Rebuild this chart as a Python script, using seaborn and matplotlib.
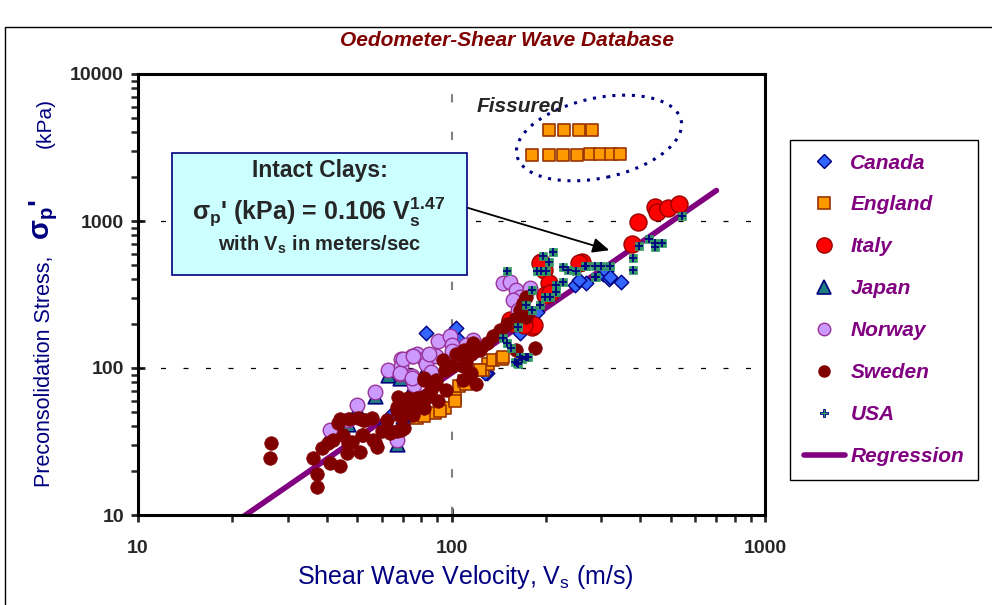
import numpy as np
import pandas as pd
import matplotlib
matplotlib.use("Agg")
import matplotlib.pyplot as plt
import seaborn as sns
from matplotlib.lines import Line2D
from matplotlib.patches import Ellipse, Rectangle
from matplotlib.ticker import LogLocator, NullFormatter
import matplotlib.transforms as mtrans

sns.set_style("white")
plt.rcParams["font.family"] = ["Liberation Sans", "DejaVu Sans"]

# ---- data (Vs in m/s, sigma_p' in kPa) ----
canada_v = [82.7, 103.5, 106, 70.2, 61.4, 165.6, 129.5, 247, 268, 305, 317, 312, 347, 320, 256, 187, 127.6, 46, 72, 80, 64]
canada_s = [172, 186, 156, 42.2, 41, 172, 92.6, 367, 377, 433, 406, 455, 385, 418, 398, 242, 92.6, 43, 49, 58, 48]

england_v = [77.5, 88.3, 95, 102.6, 106, 110, 102.6, 126, 131, 136, 144.7, 146, 123, 111, 82, 92,
             204, 229, 256, 281, 180, 204, 227, 252, 277, 298, 322, 345]
england_s = [45.5, 49.5, 53.1, 62.2, 75, 81, 60, 96.5, 106, 113, 116, 119, 96.5, 78, 47, 51,
             4160, 4160, 4180, 4180, 2810, 2810, 2810, 2830, 2840, 2850, 2860, 2870]

italy_v = [394, 445, 452, 490, 532, 376, 260, 193, 197, 256, 204, 199, 178, 180, 157, 153.5, 183, 206, 191, 170]
italy_s = [990, 1250, 1145, 1220, 1310, 698, 528, 528, 464, 517, 377, 316, 201, 191, 201, 212, 196, 323, 517, 196]

japan_v = [41, 46.8, 49.9, 57, 62.8, 66.8, 68.7, 75.5, 76.1, 85.9, 82.7, 62]
japan_s = [35.5, 41.5, 52.5, 64, 90, 30.5, 86, 76, 72.5, 89, 100, 40]

norway_v = [41, 46.8, 49.9, 57, 62.8, 66.8, 69.2, 69.2, 68.7, 74.6, 75.5, 76.1, 74.6, 77.9, 81.7, 82.7, 85.9,
            90.5, 89.3, 99, 100, 100, 68.5, 70.2, 75.5, 85, 74.6, 146, 153.5, 161, 165.6, 157, 178, 163, 117.5, 111]
norway_s = [37.8, 44.4, 56, 68.3, 96.5, 32.6, 116, 103, 91.1, 87.7, 81, 77.1, 121.5, 125, 116, 106, 94.5,
            151.6, 121.5, 165, 144, 131, 92.6, 116, 121.5, 125, 85, 377, 385, 339, 306, 290, 350, 250, 155, 144]

sweden_v = [26.5, 26.3, 36.1, 37.2, 37.2, 38.6, 40.5, 41.9, 41.0, 44.0, 45.1, 46.8, 46.3, 48.3, 51.0, 50.4,
            52.3, 55.6, 56.3, 57.7, 59.9, 62.1, 63.5, 66.8, 67.6, 66.8, 69.2, 70.8, 72.6, 75.1, 76.1, 77.9,
            81.7, 81.7, 82.7, 85.9, 89.3, 90.5, 93.8, 95.0, 96.2, 100, 106, 108.8, 110, 108.8, 70.2, 73.6,
            81.3, 81.7, 89.3, 103.5, 111, 52.3, 51.7, 57, 62.8, 69.2, 66.8, 169, 165.6, 173, 143, 136,
            129.5, 117.5, 115, 123, 111, 115, 120, 185, 161, 173, 44, 47, 53, 43.5, 160, 150]
sweden_s = [30.7, 24.3, 24.5, 19.0, 15.6, 28.4, 30.7, 32.3, 22.5, 21.6, 34.9, 30.7, 26.3, 31.5, 27.0, 45.5,
            34.9, 45.5, 32.3, 29.1, 37.1, 44.4, 36.2, 37.1, 63.8, 54.5, 46.6, 39.0, 62.2, 47.8, 54.5, 62.2,
            82.8, 53.1, 62.2, 70.7, 78.3, 60.1, 113, 96.5, 70.7, 103, 125, 103, 133, 83, 54.5, 49.5,
            63.8, 85, 83, 125, 119, 44.4, 34.9, 31.5, 37.1, 38.0, 51.9, 275, 250, 224, 182, 165,
            148, 148, 125, 133, 108, 92.6, 78.3, 137, 133, 306, 45, 45, 44.5, 42, 215, 200]

usa_v = [545, 397, 428, 446, 446, 470, 380, 380, 266, 286, 300, 320, 286, 150, 196, 211, 205, 188, 193, 200,
         227, 236, 250, 268, 227, 216, 216, 199, 206, 180, 173, 180, 191, 163, 146, 150, 155, 165.6, 173,
         159, 163, 162, 168, 176, 290]
usa_s = [1080, 676, 750, 710, 670, 710, 558, 464, 494, 494, 494, 494, 418, 455, 577, 620, 528, 455, 455, 455,
         490, 464, 455, 494, 385, 367, 331, 306, 306, 339, 270, 250, 270, 191, 159, 148, 137, 119, 119,
         110, 106, 108, 116, 119, 418]

reg_v = np.geomspace(20, 700, 50)
reg_s = 0.106 * reg_v ** 1.47

W, H = 992, 605
fig = plt.figure(figsize=(W / 100, H / 100), dpi=100)
ax = fig.add_axes([138 / W, 1 - 515 / H, (765 - 138) / W, (515 - 74) / H])

# outer chart border
fig.patches.append(Rectangle((5 / W, -0.05), 1.1, 1 - 27 / H + 0.05, transform=fig.transFigure,
                             fill=False, edgecolor="black", linewidth=1))

sns.lineplot(x=reg_v, y=reg_s, ax=ax, color="#800080", linewidth=4, zorder=2)

sns.scatterplot(x=canada_v, y=canada_s, ax=ax, marker="D", s=55, color="#3366FF", edgecolor="#000080", linewidth=1, zorder=3)
sns.scatterplot(x=england_v, y=england_s, ax=ax, marker="s", s=85, color="#FF9900", edgecolor="#993300", linewidth=1.2, zorder=3)
sns.scatterplot(x=italy_v, y=italy_s, ax=ax, marker="o", s=150, color="#FF0000", edgecolor="#990000", linewidth=1, zorder=3)
sns.scatterplot(x=japan_v, y=japan_s, ax=ax, marker="^", s=110, color="#1F7F7F", edgecolor="#000080", linewidth=1.2, zorder=3)
sns.scatterplot(x=norway_v, y=norway_s, ax=ax, marker="o", s=110, color="#CC99FF", edgecolor="#993399", linewidth=1, zorder=3)
sns.scatterplot(x=sweden_v, y=sweden_s, ax=ax, marker="o", s=95, color="#800000", edgecolor="#800000", linewidth=0.5, zorder=3)
sns.scatterplot(x=usa_v, y=usa_s, ax=ax, marker="s", s=38, color="#339966", edgecolor="#339966", linewidth=0.5, zorder=3)
sns.scatterplot(x=usa_v, y=usa_s, ax=ax, marker="+", s=30, color="#000080", linewidth=1.3, zorder=3)

ax.set_xscale("log")
ax.set_yscale("log")
ax.set_xlim(10, 1000)
ax.set_ylim(10, 10000)

for sp in ax.spines.values():
    sp.set_linewidth(2.2)
    sp.set_color("black")

ax.set_xticks([10, 100, 1000])
ax.set_xticklabels(["10", "100", "1000"])
ax.set_yticks([10, 100, 1000, 10000])
ax.set_yticklabels(["10", "100", "1000", "10000"])
ax.xaxis.set_minor_locator(LogLocator(base=10, subs=np.arange(2, 10), numticks=20))
ax.yaxis.set_minor_locator(LogLocator(base=10, subs=np.arange(2, 10), numticks=20))
ax.xaxis.set_minor_formatter(NullFormatter())
ax.yaxis.set_minor_formatter(NullFormatter())
ax.tick_params(axis="both", which="both", bottom=True, left=True, top=False, right=False)
ax.tick_params(axis="both", which="major", direction="inout", length=10, width=2, pad=5)
ax.tick_params(axis="both", which="minor", direction="out", length=5, width=1.8)
ax.tick_params(axis="x", which="major", pad=13)
for lab in ax.get_xticklabels() + ax.get_yticklabels():
    lab.set_fontweight("bold")
    lab.set_fontsize(14)

for yv in [100, 1000]:
    ax.axhline(yv, color="black", linestyle=(0, (4, 14)), linewidth=0.9, zorder=1)
ax.axvline(100, color="#808080", linestyle=(0, (4, 14)), linewidth=1.5, zorder=1)

ax.set_xlabel("")
ax.set_ylabel("")
fig.text(465 / W, 1 - 577 / H, "Shear Wave Velocity, V$_\\mathregular{s}$ (m/s)", color="#000080",
         fontsize=18, ha="center", va="center")
fig.text(45 / W, 1 - 371 / H, "Preconsolidation Stress,", rotation=90, color="#000080",
         fontsize=15.5, ha="center", va="center")
fig.text(44 / W, 1 - 220 / H, "σ$_\\mathregular{p}$'", rotation=90, color="#000080",
         fontsize=21, fontweight="bold", ha="center", va="center")
fig.text(45 / W, 1 - 123 / H, "(kPa)", rotation=90, color="#000080",
         fontsize=15, ha="center", va="center")

fig.text(340 / W, 1 - 40 / H, "Oedometer-Shear Wave Database", color="#800000", fontsize=15,
         fontweight="bold", fontstyle="italic", ha="left", va="center")

# annotation box
fig.patches.append(Rectangle((172 / W, 1 - 275 / H), (467 - 172) / W, (275 - 153) / H,
                             transform=fig.transFigure, facecolor="#CCFFFF", edgecolor="#000080",
                             linewidth=1.2, zorder=5))
fig.text(320 / W, 1 - 171 / H, "Intact Clays:", fontsize=16.5, fontweight="bold", ha="center",
         va="center", zorder=6)
fig.text(319 / W, 1 - 212 / H, "σ$_\\mathregular{p}$' (kPa) = 0.106 V$_\\mathregular{s}^\\mathregular{1.47}$",
         fontsize=18, fontweight="bold", ha="center", va="center", zorder=6)
fig.text(320 / W, 1 - 245 / H, "with V$_\\mathregular{s}$ in meters/sec", fontsize=14.5, fontweight="bold",
         ha="center", va="center", zorder=6)
ax.annotate("", xy=(612 / W, 1 - 251 / H), xycoords="figure fraction",
            xytext=(465 / W, 1 - 207 / H), textcoords="figure fraction",
            arrowprops=dict(arrowstyle="-|>,head_length=1.0,head_width=0.45", color="black", lw=1.3),
            zorder=6, annotation_clip=False)

# fissured ellipse in pixel space
ell = Ellipse((599, H - 138), 168, 80, angle=12, fill=False, edgecolor="#000080",
              linestyle=(0, (1, 2.2)), linewidth=2.2, transform=mtrans.IdentityTransform())
fig.patches.append(ell)
fig.text(477 / W, 1 - 106 / H, "Fissured", fontsize=15, fontweight="bold", fontstyle="italic",
         ha="left", va="center")

# legend
handles = [
    Line2D([], [], linestyle="", marker="D", markersize=7, markerfacecolor="#3366FF", markeredgecolor="#000080"),
    Line2D([], [], linestyle="", marker="s", markersize=8, markerfacecolor="#FF9900", markeredgecolor="#993300", markeredgewidth=1.2),
    Line2D([], [], linestyle="", marker="o", markersize=11, markerfacecolor="#FF0000", markeredgecolor="#990000"),
    Line2D([], [], linestyle="", marker="^", markersize=10, markerfacecolor="#1F7F7F", markeredgecolor="#000080", markeredgewidth=1.2),
    Line2D([], [], linestyle="", marker="o", markersize=9, markerfacecolor="#CC99FF", markeredgecolor="#993399"),
    Line2D([], [], linestyle="", marker="o", markersize=8, markerfacecolor="#800000", markeredgecolor="#800000"),
    Line2D([], [], linestyle="", marker="P", markersize=6, markerfacecolor="#339966", markeredgecolor="#000080", markeredgewidth=0.6),
    Line2D([], [], color="#800080", linewidth=4),
]
labels = ["Canada", "England", "Italy", "Japan", "Norway", "Sweden", "USA", "Regression"]
leg = fig.legend(handles, labels, loc="upper left", bbox_to_anchor=(790 / W, 1 - 140 / H),
                 borderaxespad=0, frameon=True, fancybox=False, edgecolor="black", framealpha=1,
                 handlelength=2.0, handletextpad=0.25, labelspacing=1.1, borderpad=0.65,
                 prop={"weight": "bold", "style": "italic", "size": 15})
leg.get_frame().set_linewidth(1.0)
for t in leg.get_texts():
    t.set_color("#800080")

fig.savefig("out.png", dpi=100)
